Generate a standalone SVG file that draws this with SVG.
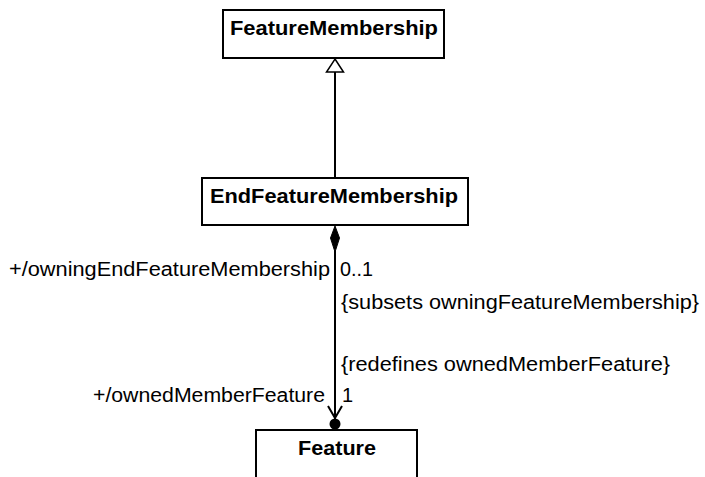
<svg xmlns="http://www.w3.org/2000/svg" width="705" height="477" viewBox="0 0 705 477">
  <style>
    .box { fill: #ffffff; stroke: #000000; stroke-width: 2; }
    .name { font-family: "Liberation Sans", Arial, sans-serif; font-weight: bold; font-size: 21px; fill: #000000; text-anchor: middle; }
    .lbl { font-family: "Liberation Sans", Arial, sans-serif; font-size: 20px; fill: #000000; }
    .edge { fill: none; stroke: #000000; stroke-width: 2; }
  </style>
  <rect width="705" height="477" fill="#ffffff"/>
  <g id="connectors">
    <line class="edge" x1="335" y1="72" x2="335" y2="178"/>
    <polygon points="335,59 343.5,72 326.5,72" fill="#ffffff" stroke="#000000" stroke-width="1.5"/>
    <line class="edge" x1="335" y1="250" x2="335" y2="419"/>
    <polygon points="335,226 339.5,238 335,252 330.5,238" fill="#000000" stroke="#000000" stroke-width="1"/>
    <polyline class="edge" points="328,406 335,418 342,406"/>
    <circle cx="335" cy="424" r="5.5" fill="#000000"/>
    <text class="lbl" x="9" y="276" textLength="321" lengthAdjust="spacingAndGlyphs">+/owningEndFeatureMembership</text>
    <text class="lbl" x="340" y="276" textLength="33" lengthAdjust="spacingAndGlyphs">0..1</text>
    <text class="lbl" x="341" y="309" textLength="358" lengthAdjust="spacingAndGlyphs">{subsets owningFeatureMembership}</text>
    <text class="lbl" x="341" y="371" textLength="329" lengthAdjust="spacingAndGlyphs">{redefines ownedMemberFeature}</text>
    <text class="lbl" x="93" y="402" textLength="232" lengthAdjust="spacingAndGlyphs">+/ownedMemberFeature</text>
    <text class="lbl" x="342" y="402">1</text>
  </g>
  <g id="FeatureMembership">
    <rect class="box" x="223" y="10" width="221" height="48"/>
    <text class="name" x="334" y="35" textLength="208" lengthAdjust="spacingAndGlyphs">FeatureMembership</text>
  </g>
  <g id="EndFeatureMembership">
    <rect class="box" x="202" y="178" width="266" height="47"/>
    <text class="name" x="334" y="203" textLength="248" lengthAdjust="spacingAndGlyphs">EndFeatureMembership</text>
  </g>
  <g id="Feature">
    <rect class="box" x="256" y="430" width="161" height="60"/>
    <text class="name" x="337" y="455" textLength="78" lengthAdjust="spacingAndGlyphs">Feature</text>
  </g>
</svg>
